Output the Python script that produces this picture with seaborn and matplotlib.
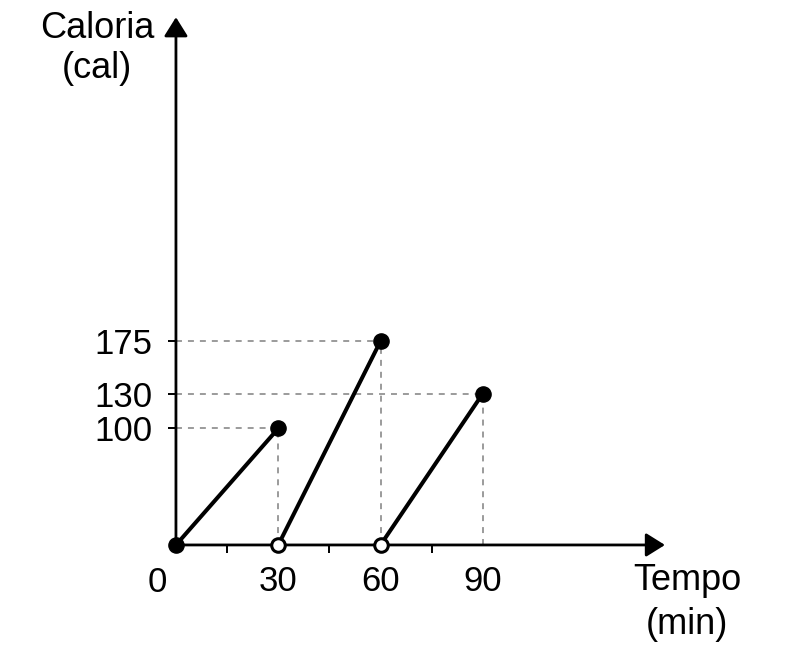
import seaborn as sns
import matplotlib.pyplot as plt
import pandas as pd
import numpy as np

# Data
seg_x0 = [0, 30, 60]
seg_x1 = [30, 60, 90]
seg_y1 = [100, 175, 130]
xticks_major = [30, 60, 90]
xticks_minor = [15, 45, 75, 90]
yticks = [100, 130, 175]

sns.set_theme(style="white")
plt.rcParams['font.family'] = ['Liberation Sans', 'DejaVu Sans']
plt.rcParams['lines.scale_dashes'] = False
plt.rcParams['text.color'] = 'black'
plt.rcParams['xtick.color'] = 'black'
plt.rcParams['ytick.color'] = 'black'
FS = 25
FS_T = 26

fig = plt.figure(figsize=(8.01, 6.66), dpi=100)
ax = fig.add_axes([0, 0, 1, 1])
ax.set_facecolor("white")
ax.set_xlim(-51.6, 183.3)
ax.set_ylim(-103.9, 467.8)

# axes through origin, drawn as arrows
for s in ax.spines.values():
    s.set_visible(False)
arrow = dict(arrowstyle='-|>,head_length=0.4,head_width=0.25', color='black',
             lw=2.0, mutation_scale=29, shrinkA=0, shrinkB=0)
ax.annotate("", xy=(143.4, 0), xytext=(0, 0), arrowprops=arrow, zorder=2)
ax.annotate("", xy=(0, 453), xytext=(0, 0), arrowprops=arrow, zorder=2)

# ticks
ax.spines['bottom'].set_position(('data', 0))
ax.spines['left'].set_position(('data', 0))
ax.set_xticks(xticks_major)
ax.set_xticklabels([str(v) for v in xticks_major], fontsize=FS)
ax.set_xticks(xticks_minor, minor=True)
ax.set_yticks(yticks)
ax.set_yticklabels([str(v) for v in yticks], fontsize=FS)
ax.tick_params(axis='x', which='both', direction='out', length=5.8, width=1.4,
               color='black', bottom=True)
ax.tick_params(axis='x', which='major', length=0, pad=14.4, labelcolor='black')
ax.tick_params(axis='y', direction='out', length=5.8, width=1.4, color='black',
               pad=11, left=True, labelcolor='black')
ax.grid(False)

# dashed guides
dash = dict(color='#808080', lw=1.1, linestyle=(0, (4.3, 4.3)), zorder=1)
ax.hlines(seg_y1, 0, seg_x1, **dash)
ax.vlines(seg_x1, 0, seg_y1, **dash)

# segments
rows = []
for i, (a, b, h) in enumerate(zip(seg_x0, seg_x1, seg_y1)):
    rows.append({"seg": i, "t": a, "cal": 0})
    rows.append({"seg": i, "t": b, "cal": h})
df = pd.DataFrame(rows)
sns.lineplot(data=df, x="t", y="cal", units="seg", estimator=None,
             color="black", lw=2.9, ax=ax, zorder=3)

# endpoints
closed = pd.DataFrame({"t": [0] + seg_x1, "cal": [0] + seg_y1})
opened = pd.DataFrame({"t": seg_x0[1:], "cal": [0] * (len(seg_x0) - 1)})
sns.scatterplot(data=closed, x="t", y="cal", s=120, color="black",
                edgecolor="black", linewidth=1, ax=ax, zorder=4)
sns.scatterplot(data=opened, x="t", y="cal", s=95, facecolor="white",
                edgecolor="black", linewidth=2.2, ax=ax, zorder=4)
ax.set_xlabel("")
ax.set_ylabel("")

# origin label and axis titles
ax.annotate("0", xy=(0, 0), xytext=(-13.7, -15), textcoords="offset points",
            ha="center", va="top", fontsize=FS)
fig.text(97 / 801, 1 - 28 / 666, "Caloria", ha="center", va="center", fontsize=FS_T)
fig.text(97 / 801, 1 - 69 / 666, "(cal)", ha="center", va="center", fontsize=FS_T)
fig.text(687 / 801, 1 - 580 / 666, "Tempo", ha="center", va="center", fontsize=FS_T)
fig.text(687 / 801, 1 - 625 / 666, "(min)", ha="center", va="center", fontsize=FS_T)

fig.savefig("out.png", dpi=100)
